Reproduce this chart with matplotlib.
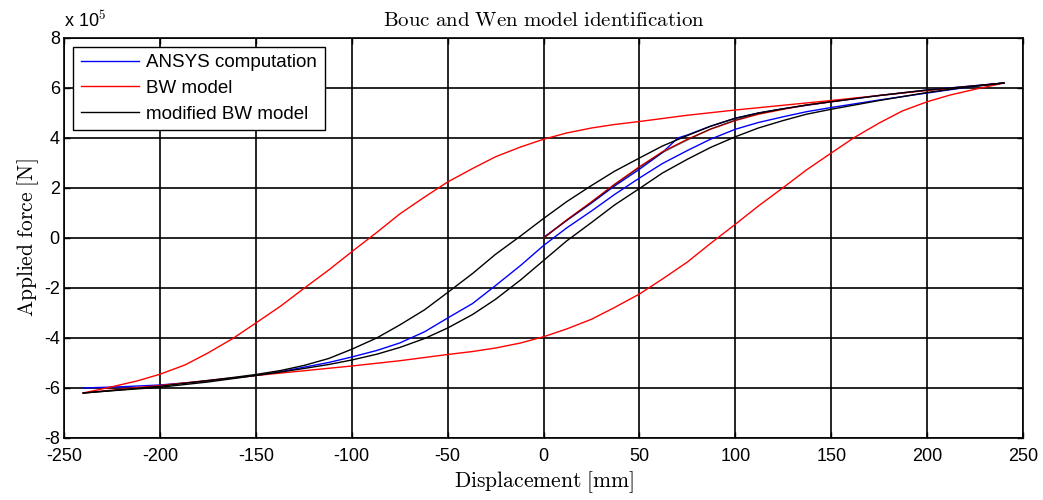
import matplotlib
matplotlib.use('Agg')
import matplotlib.pyplot as plt

plt.rcParams['font.family'] = ['Liberation Sans', 'DejaVu Sans']
plt.rcParams['mathtext.fontset'] = 'cm'
plt.rcParams['axes.unicode_minus'] = False

# force in units of 1e5 N, displacement in mm
# ANSYS computation
x_ansys_up = [-240, -220, -200, -175, -150, -137, -125, -112, -100, -87, -75, -62, -50, -37, -25, -12, 0,
              12, 25, 37, 50, 62, 75, 87, 100, 112, 125, 137, 150, 175, 200, 220, 240]
f_ansys_up = [-6.0, -5.95, -5.88, -5.72, -5.5, -5.35, -5.17, -4.98, -4.76, -4.5, -4.2, -3.75, -3.2, -2.62, -1.9, -1.1, -0.3,
              0.4, 1.08, 1.74, 2.4, 2.98, 3.5, 3.95, 4.35, 4.62, 4.85, 5.05, 5.22, 5.52, 5.8, 6.02, 6.2]
x_ansys_down = [240, 220, 200, 175, 150, 125, 112, 100, 87, 75, 70, 62, 50, 37, 25, 12, 0]
f_ansys_down = [6.2, 6.06, 5.92, 5.7, 5.45, 5.17, 5.0, 4.79, 4.47, 4.12, 4.0, 3.42, 2.75, 2.08, 1.4, 0.7, 0.02]

# BW model
x_bw_init = [0, 12, 25, 37, 50, 62, 75, 87, 100, 112, 125, 137, 150, 162]
f_bw_init = [0, 0.72, 1.45, 2.15, 2.85, 3.45, 3.95, 4.35, 4.7, 4.95, 5.15, 5.32, 5.45, 5.58]
x_bw_down = [240, 230, 220, 210, 200, 175, 150, 125, 100, 75, 50, 37, 25, 12, 0, -12, -25, -37, -50, -62, -75,
             -87, -100, -112, -125, -137, -150, -162, -175, -187, -200, -212, -225, -240]
f_bw_down = [6.2, 6.12, 6.05, 5.97, 5.9, 5.7, 5.5, 5.31, 5.12, 4.91, 4.66, 4.54, 4.4, 4.2, 3.95, 3.64, 3.25, 2.78, 2.24, 1.64, 0.96,
             0.22, -0.55, -1.28, -2.02, -2.72, -3.4, -4.02, -4.6, -5.08, -5.45, -5.72, -5.95, -6.2]
x_bw_up = [-240, -230, -220, -210, -200, -175, -150, -125, -100, -75, -50, -37, -25, -12, 0, 12, 25, 37, 50, 62, 75,
           87, 100, 112, 125, 137, 150, 162, 175, 187, 200, 212, 225, 240]
f_bw_up = [-6.2, -6.12, -6.05, -5.97, -5.9, -5.7, -5.5, -5.31, -5.12, -4.91, -4.66, -4.54, -4.4, -4.2, -3.95, -3.64, -3.25, -2.78, -2.24, -1.64, -0.96,
           -0.22, 0.55, 1.28, 2.02, 2.72, 3.4, 4.02, 4.6, 5.08, 5.45, 5.72, 5.95, 6.2]

# modified BW model
x_mbw_init = [0, 12, 25, 37, 50, 62, 75, 87, 100, 112, 125]
f_mbw_init = [0, 0.7, 1.42, 2.12, 2.82, 3.42, 3.92, 4.36, 4.72, 4.98, 5.17]
x_mbw_down = [240, 220, 200, 175, 150, 137, 125, 112, 100, 87, 75, 62, 50, 37, 25, 12, 0, -12, -25, -37, -50,
              -62, -75, -87, -100, -112, -125, -137, -150, -162, -175, -200, -220, -240]
f_mbw_down = [6.2, 6.05, 5.92, 5.7, 5.45, 5.32, 5.17, 5.0, 4.79, 4.47, 4.1, 3.68, 3.2, 2.67, 2.1, 1.45, 0.78, 0.08, -0.65, -1.42, -2.18,
              -2.87, -3.48, -4.0, -4.45, -4.82, -5.1, -5.3, -5.46, -5.58, -5.7, -5.93, -6.07, -6.2]
x_mbw_up = [-240, -220, -200, -175, -150, -137, -125, -112, -100, -87, -75, -62, -50, -37, -25, -12, 0, 12, 25, 37, 50,
            62, 75, 87, 100, 112, 125, 137, 150, 175, 200, 220, 240]
f_mbw_up = [-6.2, -6.08, -5.97, -5.76, -5.5, -5.36, -5.22, -5.06, -4.88, -4.65, -4.38, -4.02, -3.6, -3.06, -2.45, -1.68, -0.9, -0.12, 0.62, 1.32, 1.98,
            2.6, 3.15, 3.62, 4.05, 4.4, 4.7, 4.95, 5.15, 5.5, 5.82, 6.03, 6.2]

xticks = list(range(-250, 251, 50))
yticks = list(range(-8, 9, 2))

fig = plt.figure(figsize=(10.43, 5.0), dpi=100)
ax = fig.add_axes([0.0614, 0.124, 0.9195, 0.8])

l1, = ax.plot(x_ansys_up, f_ansys_up, color='#0000ff', lw=1.0)
ax.plot(x_ansys_down, f_ansys_down, color='#0000ff', lw=1.0)
l2, = ax.plot(x_bw_down, f_bw_down, color='#ff0000', lw=1.0)
ax.plot(x_bw_up, f_bw_up, color='#ff0000', lw=1.0)
ax.plot(x_bw_init, f_bw_init, color='#ff0000', lw=1.0)
l3, = ax.plot(x_mbw_down, f_mbw_down, color='#000000', lw=1.0)
ax.plot(x_mbw_up, f_mbw_up, color='#000000', lw=1.0)
ax.plot(x_mbw_init, f_mbw_init, color='#000000', lw=1.0, alpha=0.55)

ax.set_xlim(-250, 250)
ax.set_ylim(-8, 8)
ax.set_xticks(xticks)
ax.set_yticks(yticks)
ax.grid(True, color='k', lw=1.2, ls='-')
ax.set_axisbelow(True)
for s in ax.spines.values():
    s.set_linewidth(1.2)
ax.tick_params(direction='in', length=4, width=1, top=True, right=True, labelsize=13)
ax.tick_params(axis='x', pad=7)
ax.tick_params(axis='y', pad=3)

ax.set_title(r'$\mathrm{Bouc\ and\ Wen\ model\ identification}$', fontsize=15, pad=9)
ax.set_xlabel(r'$\mathrm{Displacement\ [mm]}$', fontsize=15.5, labelpad=3)
ax.set_ylabel(r'$\mathrm{Applied\ force\ [N]}$', fontsize=15.5, labelpad=2)
ax.text(0.0, 1.018, r'x 10$^5$', transform=ax.transAxes, fontsize=13, ha='left', va='bottom')

leg = ax.legend([l1, l2, l3], ['ANSYS computation', 'BW model', 'modified BW model'],
                loc='upper left', bbox_to_anchor=(0.0094, 0.978), borderaxespad=0,
                fontsize=13.5, handlelength=3.1, handletextpad=0.4, labelspacing=0.45,
                fancybox=False, framealpha=1, edgecolor='k', borderpad=0.4)
leg.get_frame().set_linewidth(1.0)

fig.savefig('out.png', dpi=100)
